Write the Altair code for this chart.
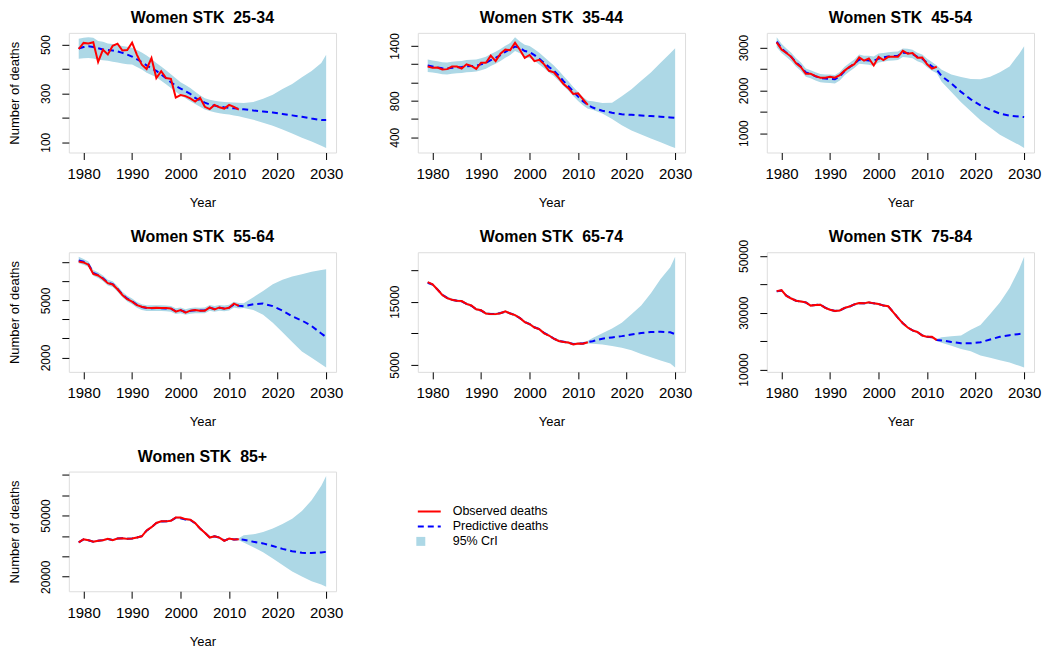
import altair as alt
import pandas as pd

FONT = "Liberation Sans"
RED = "#FF0000"
BLUE = "#0000FF"
BAND = "#ADD8E6"

# ---------------- data ----------------
FIT_YEARS = list(range(1979, 2013))
FC_YEARS = [2013, 2015, 2017, 2019, 2021, 2023, 2025, 2027, 2029, 2030]
PRED_YEARS = FIT_YEARS + FC_YEARS
X_TICKS = [1980, 1990, 2000, 2010, 2020, 2030]

# 25-34
OBS_2534 = [482, 507, 505, 510, 429, 479, 460, 495, 504, 476,
            478, 508, 458, 418, 400, 445, 363, 391, 363, 360,
            283, 293, 289, 280, 267, 282, 245, 236, 253, 243,
            238, 253, 245, 234]
PRED_2534 = [484, 490, 493, 490, 485, 480, 478, 476, 472, 466,
             459, 451, 440, 428, 415, 403, 392, 378, 362, 346,
             331, 320, 309, 298, 282, 272, 262, 255, 250, 246,
             243, 241, 239, 237,
             235, 230, 226, 222, 216, 210, 204, 197, 191, 191]
HI_2534 = [524, 528, 530, 528, 515, 512, 505, 503, 498, 494,
           491, 487, 478, 468, 455, 441, 425, 410, 395, 379,
           362, 346, 334, 322, 307, 293, 280, 274, 270, 267,
           265, 264, 263, 262,
           261, 265, 278, 295, 318, 339, 366, 392, 425, 458]
LO_2534 = [442, 444, 445, 443, 438, 436, 434, 430, 427, 423,
           420, 418, 408, 398, 385, 375, 366, 352, 338, 322,
           307, 293, 280, 268, 257, 245, 234, 228, 223, 219,
           216, 214, 210, 206,
           201, 192, 180, 168, 152, 136, 118, 103, 86, 76]
YT_2534 = [100, 200, 300, 400, 500]
YL_2534 = [100, 300, 500]

# 35-44
OBS_3544 = [1174, 1160, 1163, 1142, 1146, 1174, 1174, 1153, 1199, 1181,
            1149, 1216, 1216, 1294, 1234, 1315, 1361, 1354, 1435, 1358,
            1269, 1301, 1234, 1248, 1199, 1128, 1111, 1051, 983, 938,
            874, 881, 818, 754]
PRED_3544 = [1185, 1175, 1165, 1155, 1152, 1160, 1165, 1170, 1178, 1180,
             1185, 1198, 1215, 1245, 1270, 1300, 1335, 1365, 1393, 1380,
             1345, 1333, 1300, 1260, 1215, 1170, 1128, 1075, 1015, 960,
             900, 845, 795, 755,
             725, 690, 668, 652, 645, 638, 632, 625, 617, 613]
HI_3544 = [1252, 1240, 1232, 1222, 1218, 1226, 1232, 1236, 1245, 1248,
           1252, 1265, 1282, 1312, 1337, 1367, 1403, 1432, 1495, 1450,
           1412, 1400, 1365, 1325, 1280, 1232, 1185, 1130, 1070, 1012,
           950, 895, 840, 800,
           793, 775, 778, 850, 925, 1020, 1110, 1215, 1320, 1375]
LO_3544 = [1115, 1108, 1100, 1090, 1088, 1095, 1100, 1105, 1112, 1115,
           1120, 1133, 1150, 1180, 1205, 1235, 1270, 1300, 1345, 1320,
           1280, 1268, 1238, 1198, 1155, 1110, 1070, 1020, 960, 908,
           852, 798, 750, 712,
           700, 660, 600, 530, 475, 430, 387, 345, 300, 281]
YT_3544 = [400, 600, 800, 1000, 1200, 1400]
YL_3544 = [400, 800, 1400]

# 45-54
OBS_4554 = [3120, 2955, 2873, 2783, 2633, 2543, 2386, 2386, 2333, 2296,
            2296, 2318, 2296, 2356, 2461, 2551, 2610, 2768, 2693, 2745,
            2581, 2783, 2708, 2783, 2783, 2783, 2925, 2858, 2873, 2760,
            2768, 2610, 2506, 2551]
PRED_4554 = [3140, 2980, 2880, 2780, 2650, 2550, 2420, 2380, 2330, 2290,
             2275, 2270, 2260, 2330, 2450, 2540, 2620, 2720, 2710, 2700,
             2690, 2740, 2770, 2790, 2800, 2810, 2880, 2870, 2850, 2780,
             2740, 2640, 2560, 2480,
             2333, 2161, 1963, 1790, 1650, 1547, 1457, 1410, 1385, 1375]
HI_4554 = [3240, 3090, 2980, 2880, 2750, 2650, 2510, 2470, 2420, 2380,
           2370, 2370, 2360, 2430, 2550, 2640, 2720, 2840, 2810, 2810,
           2790, 2860, 2870, 2890, 2900, 2910, 2980, 2970, 2950, 2880,
           2840, 2740, 2660, 2580,
           2483, 2371, 2310, 2265, 2260, 2320, 2424, 2558, 2858, 3030]
LO_4554 = [3010, 2870, 2780, 2680, 2550, 2450, 2320, 2280, 2230, 2190,
           2180, 2170, 2160, 2230, 2350, 2440, 2520, 2620, 2610, 2600,
           2570, 2650, 2670, 2690, 2700, 2710, 2780, 2770, 2750, 2680,
           2640, 2540, 2460, 2400,
           2200, 1960, 1720, 1510, 1300, 1130, 963, 840, 720, 650]
YT_4554 = [1000, 1500, 2000, 2500, 3000]
YL_4554 = [1000, 2000, 3000]

# 55-64
OBS_5564 = [7047, 6997, 6879, 6393, 6309, 6141, 5906, 5839, 5587, 5285,
            5067, 4933, 4748, 4664, 4614, 4597, 4614, 4597, 4597, 4581,
            4413, 4497, 4362, 4463, 4497, 4463, 4463, 4631, 4530, 4631,
            4564, 4614, 4832, 4715]
PRED_5564 = [7100, 7030, 6900, 6450, 6330, 6160, 5930, 5860, 5610, 5310,
             5090, 4950, 4770, 4650, 4600, 4590, 4600, 4590, 4580, 4560,
             4440, 4480, 4390, 4450, 4480, 4470, 4480, 4610, 4550, 4610,
             4580, 4620, 4780, 4720,
             4698, 4799, 4832, 4698, 4463, 4161, 3943, 3658, 3260, 3070]
HI_5564 = [7300, 7180, 7050, 6600, 6480, 6310, 6080, 6010, 5760, 5460,
           5240, 5100, 4920, 4800, 4750, 4740, 4750, 4740, 4730, 4710,
           4590, 4630, 4540, 4600, 4630, 4620, 4630, 4760, 4700, 4760,
           4730, 4770, 4930, 4870,
           4850, 5168, 5500, 5850, 6091, 6258, 6376, 6510, 6600, 6644]
LO_5564 = [6950, 6880, 6750, 6300, 6180, 6010, 5780, 5710, 5460, 5160,
           4940, 4800, 4620, 4500, 4450, 4440, 4450, 4440, 4430, 4410,
           4290, 4330, 4240, 4300, 4330, 4320, 4330, 4460, 4400, 4460,
           4430, 4470, 4630, 4570,
           4600, 4497, 4245, 3826, 3322, 2819, 2315, 1980, 1650, 1477]
YT_5564 = [2000, 3000, 4000, 5000, 6000, 7000]
YL_5564 = [2000, 5000]

# 65-74
OBS_6574 = [18081, 17727, 16919, 16061, 15556, 15303, 15152, 15101, 14646, 14394,
            13788, 13636, 13131, 13030, 13030, 13182, 13485, 13131, 12879, 12424,
            11768, 11465, 10909, 10657, 10000, 9646, 9141, 8788, 8636, 8535,
            8232, 8384, 8333, 8586]
PRED_6574 = [18000, 17700, 16950, 16100, 15600, 15300, 15150, 15050, 14650, 14350,
             13800, 13600, 13150, 13050, 13050, 13200, 13400, 13150, 12850, 12400,
             11800, 11450, 10950, 10650, 10050, 9650, 9150, 8800, 8650, 8500,
             8300, 8350, 8400, 8600,
             8737, 9141, 9350, 9550, 9800, 10050, 10202, 10253, 10152, 9848]
HI_6574 = [18200, 17900, 17150, 16300, 15800, 15500, 15350, 15250, 14850, 14550,
           14000, 13800, 13350, 13250, 13250, 13400, 13600, 13350, 13050, 12600,
           12000, 11650, 11150, 10850, 10250, 9850, 9350, 9000, 8850, 8700,
           8500, 8550, 8600, 8800,
           9242, 10000, 10758, 11667, 13030, 14394, 16313, 18586, 20455, 22121]
LO_6574 = [17800, 17500, 16750, 15900, 15400, 15100, 14950, 14850, 14450, 14150,
           13600, 13400, 12950, 12850, 12850, 13000, 13200, 12950, 12650, 12200,
           11600, 11250, 10750, 10450, 9850, 9450, 8950, 8600, 8450, 8300,
           8100, 8150, 8200, 8400,
           8333, 8232, 7980, 7727, 7323, 6717, 6212, 5707, 5202, 4596]
YT_6574 = [5000, 10000, 15000, 20000]
YL_6574 = [5000, 15000]

# 75-84
OBS_7584 = [37592, 37932, 35892, 34986, 34193, 33966, 33626, 32493, 32720, 32833,
            31700, 31020, 30567, 30793, 31700, 32153, 32946, 33399, 33286, 33626,
            33286, 33059, 32493, 32266, 30227, 28187, 26261, 24788, 23768, 23201,
            21955, 21501, 21501, 20368]
PRED_7584 = [37500, 37800, 36000, 35000, 34200, 33950, 33600, 32600, 32700, 32800,
             31750, 31050, 30600, 30800, 31650, 32150, 32900, 33350, 33300, 33550,
             33300, 33050, 32550, 32200, 30300, 28200, 26300, 24800, 23800, 23200,
             22000, 21500, 21400, 20400,
             20255, 19688, 19235, 19235, 19575, 20595, 21501, 22068, 22500, 22748]
HI_7584 = [37900, 38200, 36400, 35400, 34600, 34350, 34000, 33000, 33100, 33200,
           32150, 31450, 31000, 31200, 32050, 32550, 33300, 33750, 33700, 33950,
           33700, 33450, 32950, 32600, 30700, 28600, 26700, 25200, 24200, 23600,
           22400, 21900, 21800, 20800,
           21388, 21728, 21955, 23994, 25694, 29500, 33600, 38700, 45500, 49717]
LO_7584 = [37100, 37400, 35600, 34600, 33800, 33550, 33200, 32200, 32300, 32400,
           31350, 30650, 30200, 30400, 31250, 31750, 32500, 32950, 32900, 33150,
           32900, 32650, 32150, 31800, 29900, 27800, 25900, 24400, 23400, 22800,
           21600, 21100, 21000, 20000,
           19462, 18329, 17195, 16402, 14929, 14136, 13229, 12436, 11303, 10737]
YT_7584 = [10000, 20000, 30000, 40000, 50000]
YL_7584 = [10000, 30000, 50000]

# 85+
OBS_85 = [36825, 38413, 37937, 37143, 37619, 37937, 38571, 37937, 38730, 38889,
          38571, 38730, 39206, 39841, 42698, 44286, 46349, 47143, 47143, 47460,
          49048, 49048, 48254, 47937, 46349, 43651, 41587, 39206, 39841, 39206,
          37619, 38730, 38254, 38413]
PRED_85 = [36900, 38300, 37900, 37200, 37600, 37950, 38500, 38000, 38700, 38850,
           38600, 38750, 39200, 39900, 42600, 44300, 46300, 47100, 47150, 47500,
           48900, 48700, 48100, 47800, 46200, 43700, 41600, 39300, 39800, 39200,
           37700, 38600, 38300, 38400,
           38095, 37143, 36349, 35079, 33651, 32540, 31746, 31587, 31900, 32222]
HI_85 = [37400, 38800, 38400, 37700, 38100, 38450, 39000, 38500, 39200, 39350,
         39100, 39250, 39700, 40400, 43100, 44800, 46800, 47600, 47650, 48000,
         49400, 49200, 48600, 48300, 46700, 44200, 42100, 39800, 40300, 39700,
         38200, 39100, 38800, 38900,
         40317, 40794, 41905, 43651, 45873, 48413, 52222, 57460, 64603, 69365]
LO_85 = [36400, 37800, 37400, 36700, 37100, 37450, 38000, 37500, 38200, 38350,
         38100, 38250, 38700, 39400, 42100, 43800, 45800, 46600, 46650, 47000,
         48400, 48200, 47600, 47300, 45700, 43200, 41100, 38800, 39300, 38700,
         37200, 38100, 37800, 37900,
         36825, 34444, 32063, 28889, 25714, 22540, 20159, 17778, 16190, 15079]
YT_85 = [20000, 30000, 40000, 50000, 60000, 70000]
YL_85 = [20000, 50000]

PANELS = [
    ("25-34", OBS_2534, PRED_2534, LO_2534, HI_2534, YT_2534, YL_2534),
    ("35-44", OBS_3544, PRED_3544, LO_3544, HI_3544, YT_3544, YL_3544),
    ("45-54", OBS_4554, PRED_4554, LO_4554, HI_4554, YT_4554, YL_4554),
    ("55-64", OBS_5564, PRED_5564, LO_5564, HI_5564, YT_5564, YL_5564),
    ("65-74", OBS_6574, PRED_6574, LO_6574, HI_6574, YT_6574, YL_6574),
    ("75-84", OBS_7584, PRED_7584, LO_7584, HI_7584, YT_7584, YL_7584),
    ("85+", OBS_85, PRED_85, LO_85, HI_85, YT_85, YL_85),
]

LEGEND_LABELS = ["Observed deaths", "Predictive deaths", "95% CrI"]

# ---------------- layout ----------------
W, H = 268, 120

x_lo, x_hi = min(PRED_YEARS), max(PRED_YEARS)
x_pad = 0.04 * (x_hi - x_lo)
XDOM = [x_lo - x_pad, x_hi + x_pad]


def make_panel(idx, group, obs, pred, lo, hi, yticks, ylabels):
    df_obs = pd.DataFrame({"year": FIT_YEARS, "deaths": obs})
    df_pred = pd.DataFrame({"year": PRED_YEARS, "pred": pred, "lo": lo, "hi": hi})
    df_title = pd.DataFrame({"t": ["Women STK\u00a0 " + group]})
    allv = list(obs) + list(pred) + list(lo) + list(hi)
    vmin, vmax = min(allv), max(allv)
    pad = 0.04 * (vmax - vmin)
    xscale = alt.Scale(domain=XDOM, nice=False, zero=False)
    yscale = alt.Scale(domain=[vmin - pad, vmax + pad], nice=False, zero=False)
    label_expr = "indexof([%s], datum.value) >= 0 ? datum.label : ''" % ",".join(
        str(v) for v in ylabels)
    xaxis = alt.Axis(values=X_TICKS, format="d", title="Year", domain=False, grid=False,
                     tickSize=7, tickColor="black", tickWidth=1,
                     labelFontSize=15, labelPadding=7, labelColor="black", labelFont=FONT,
                     labelFlush=False, labelOverlap=False,
                     titleFontSize=13, titleFontWeight="normal", titleColor="black",
                     titleFont=FONT, titlePadding=15)
    yaxis_kw = dict(values=yticks, format="d", labelExpr=label_expr, domain=False, grid=False,
                    tickSize=7, tickColor="black", tickWidth=1,
                    labelFontSize=12, labelPadding=9, labelColor="black", labelFont=FONT,
                    labelAngle=270, labelAlign="center", labelBaseline="bottom",
                    labelFlush=False, labelOverlap=False,
                    titleFontSize=13, titleFontWeight="normal", titleColor="black",
                    titleFont=FONT, titlePadding=18)
    if idx % 3 == 0:
        yaxis = alt.Axis(title="Number of deaths", **yaxis_kw)
    else:
        yaxis = alt.Axis(title=None, **yaxis_kw)

    band = alt.Chart(df_pred).mark_area(color=BAND, opacity=1).encode(
        x=alt.X("year:Q", scale=xscale, axis=xaxis),
        y=alt.Y("lo:Q", scale=yscale, axis=yaxis),
        y2="hi:Q",
    )
    pline = alt.Chart(df_pred).mark_line(color=BLUE, strokeWidth=2, strokeDash=[6, 4]).encode(
        x=alt.X("year:Q", scale=xscale, axis=xaxis),
        y=alt.Y("pred:Q", scale=yscale, axis=yaxis),
    )
    oline = alt.Chart(df_obs).mark_line(color=RED, strokeWidth=2).encode(
        x=alt.X("year:Q", scale=xscale, axis=xaxis),
        y=alt.Y("deaths:Q", scale=yscale, axis=yaxis),
    )
    title = alt.Chart(df_title).mark_text(
        font=FONT, fontSize=16, fontWeight="bold", color="black",
        align="center", baseline="alphabetic"
    ).encode(text="t:N", x=alt.value(W / 2), y=alt.value(-10))
    return alt.layer(band, pline, oline, title).properties(width=W, height=H)


panels = [make_panel(i, *p) for i, p in enumerate(PANELS)]

# legend cell
leg_df = pd.DataFrame({"label": LEGEND_LABELS})
ly = alt.Y("label:N", axis=None,
           scale=alt.Scale(type="point", domain=LEGEND_LABELS, range=[40, 70], padding=0))
leg_lines = alt.Chart(leg_df).transform_filter(
    alt.FieldOneOfPredicate(field="label", oneOf=LEGEND_LABELS[:2])
).mark_rule(strokeWidth=2).encode(
    x=alt.value(0), x2=alt.value(23), y=ly,
    color=alt.Color("label:N", scale=alt.Scale(domain=LEGEND_LABELS[:2], range=[RED, BLUE]),
                    legend=None),
    strokeDash=alt.StrokeDash("label:N",
                              scale=alt.Scale(domain=LEGEND_LABELS[:2], range=[[1, 0], [6, 4]]),
                              legend=None),
)
leg_box = alt.Chart(leg_df).transform_filter(
    alt.FieldEqualPredicate(field="label", equal=LEGEND_LABELS[2])
).mark_square(size=81, color=BAND, opacity=1, filled=True).encode(x=alt.value(3), y=ly)
leg_text = alt.Chart(leg_df).mark_text(align="left", baseline="middle", fontSize=12.5,
                                       font=FONT, color="black").encode(
    x=alt.value(35), y=ly, text="label:N")
legend = alt.layer(leg_lines, leg_box, leg_text).properties(
    width=W, height=H, view=alt.ViewBackground(strokeOpacity=0))

chart = alt.concat(*panels, legend, columns=3,
                   spacing={"row": 100, "column": 82}, bounds="flush").properties(
    padding=0
).configure_view(stroke="black", strokeWidth=1).configure(font=FONT)

chart.save("out.html", embed_options={"renderer": "svg", "actions": False})
